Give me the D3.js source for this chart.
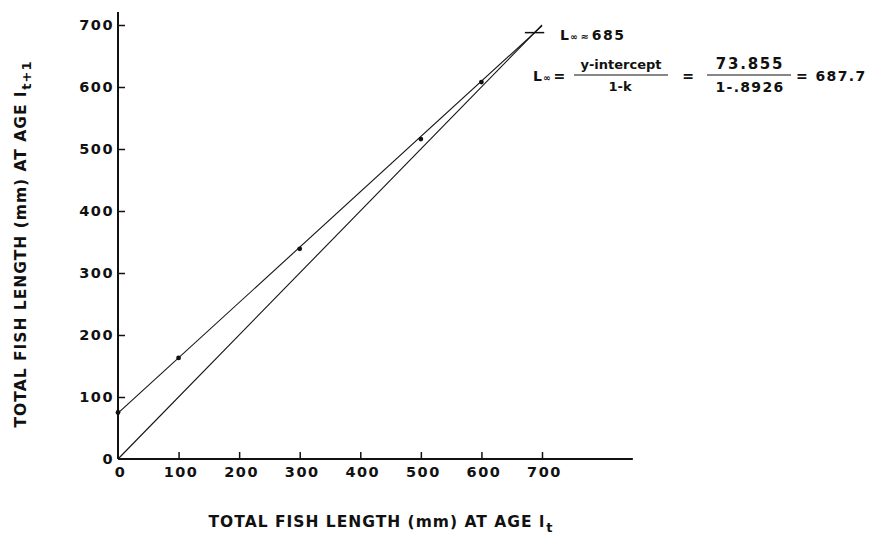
<!DOCTYPE html>
<html>
<head>
<meta charset="utf-8">
<script src="https://cdn.jsdelivr.net/npm/d3@7"></script>
<style>
  html, body { margin: 0; padding: 0; background: #fff; }
  svg { display: block; }
  text { font-family: "DejaVu Sans", "Liberation Sans", sans-serif; font-weight: bold; fill: #111; }
</style>
</head>
<body>
<svg id="chart" width="880" height="544"></svg>
<script>
// Walford plot: length at age t+1 against length at age t
const xTicks = [0, 100, 200, 300, 400, 500, 600, 700];
const yTicks = [0, 100, 200, 300, 400, 500, 600, 700];
const lengthAtT = [0, 100, 300, 500, 600];
const lengthAtT1 = [75, 163, 339, 516, 608];
const intercept = 73.855;
const slope = 0.8926;
const lInfinity = 687.7;

const svg = d3.select("#chart");
const x = d3.scaleLinear().domain([0, 700]).range([118, 542]);
const y = d3.scaleLinear().domain([0, 700]).range([459, 25]);
const ink = "#111";

// axes
const xAxis = d3.axisBottom(x).tickValues(xTicks).tickSizeInner(-7).tickSizeOuter(0).tickPadding(8);
const gx = svg.append("g").attr("transform", `translate(0,${y(0)})`).call(xAxis);
gx.select(".domain").remove();
gx.selectAll(".tick line").attr("stroke", ink).attr("stroke-width", 1.5)
  .filter(d => d === 0).remove();
gx.selectAll(".tick text").attr("font-size", 14.5).attr("letter-spacing", 1.5)
  .attr("fill", ink).attr("dx", 2);

const yAxis = d3.axisLeft(y).tickValues(yTicks).tickSizeInner(-7).tickSizeOuter(0).tickPadding(4);
const gy = svg.append("g").attr("transform", `translate(${x(0)},0)`).call(yAxis);
gy.select(".domain").remove();
gy.selectAll(".tick line").attr("stroke", ink).attr("stroke-width", 1.5)
  .filter(d => d === 0).remove();
gy.selectAll(".tick text").attr("font-size", 14.5).attr("letter-spacing", 1.5).attr("fill", ink);

svg.append("line").attr("x1", x(0)).attr("x2", x(850)).attr("y1", y(0)).attr("y2", y(0))
  .attr("stroke", ink).attr("stroke-width", 2);
svg.append("line").attr("x1", x(0)).attr("x2", x(0)).attr("y1", y(0)).attr("y2", y(721))
  .attr("stroke", ink).attr("stroke-width", 2);

// 45-degree line (l_t+1 = l_t)
const line = d3.line().x(d => x(d[0])).y(d => y(d[1]));
svg.append("path").attr("d", line([[0, 0], [700, 700]]))
  .attr("fill", "none").attr("stroke", ink).attr("stroke-width", 1.1);

// fitted regression line
svg.append("path").attr("d", line([[0, intercept], [700, intercept + slope * 700]]))
  .attr("fill", "none").attr("stroke", ink).attr("stroke-width", 1.1);

// observed points
svg.selectAll("circle.pt").data(lengthAtT).enter().append("circle")
  .attr("class", "pt")
  .attr("cx", d => x(d)).attr("cy", (d, i) => y(lengthAtT1[i]))
  .attr("r", 2.4).attr("fill", ink);

// intersection marker
svg.append("line")
  .attr("x1", x(lInfinity - 16)).attr("x2", x(lInfinity + 16))
  .attr("y1", y(lInfinity)).attr("y2", y(lInfinity))
  .attr("stroke", ink).attr("stroke-width", 1.5);

// annotation: L∞ ≈ 685
const a1 = svg.append("text").attr("x", 560).attr("y", 40).attr("font-size", 14);
a1.append("tspan").text("L");
a1.append("tspan").attr("font-size", 9).attr("dx", 1).text("∞");
a1.append("tspan").attr("font-size", 10).attr("dx", 3).text("≈");
a1.append("tspan").attr("dx", 3).attr("letter-spacing", 1.5).text("685");

// annotation: L∞ = y-intercept / (1-k) = 73.855 / (1-.8926) = 687.7
const a2 = svg.append("text").attr("x", 533).attr("y", 81).attr("font-size", 14);
a2.append("tspan").text("L");
a2.append("tspan").attr("font-size", 9).attr("dx", 1).text("∞");
a2.append("tspan").attr("dx", 3).text("=");

svg.append("text").attr("x", 621).attr("y", 69).attr("font-size", 13)
  .attr("text-anchor", "middle").text("y-intercept");
svg.append("line").attr("x1", 574).attr("x2", 668).attr("y1", 75).attr("y2", 75)
  .attr("stroke", ink).attr("stroke-width", 1.2);
svg.append("text").attr("x", 620).attr("y", 91).attr("font-size", 13)
  .attr("text-anchor", "middle").text("1-k");

svg.append("text").attr("x", 688).attr("y", 81).attr("font-size", 14)
  .attr("text-anchor", "middle").text("=");

svg.append("text").attr("x", 750).attr("y", 69).attr("font-size", 15)
  .attr("text-anchor", "middle").attr("letter-spacing", 1.8).text(intercept.toFixed(3));
svg.append("line").attr("x1", 707).attr("x2", 791).attr("y1", 75).attr("y2", 75)
  .attr("stroke", ink).attr("stroke-width", 1.2);
svg.append("text").attr("x", 750).attr("y", 92).attr("font-size", 14)
  .attr("text-anchor", "middle").attr("letter-spacing", 1.3).text("1-.8926");

svg.append("text").attr("x", 796).attr("y", 81).attr("font-size", 14)
  .attr("letter-spacing", 1.4).text("= " + lInfinity.toFixed(1));

// axis titles
const xt = svg.append("text").attr("x", 381).attr("y", 527).attr("font-size", 15.5)
  .attr("letter-spacing", 1).attr("text-anchor", "middle");
xt.append("tspan").text("TOTAL FISH LENGTH (mm) AT AGE l");
xt.append("tspan").attr("dy", 5).attr("font-size", 13).attr("dx", 1).text("t");

const yt = svg.append("text")
  .attr("transform", "translate(26,244) rotate(-90)")
  .attr("font-size", 15.5).attr("letter-spacing", 1).attr("text-anchor", "middle");
yt.append("tspan").text("TOTAL FISH LENGTH (mm) AT AGE l");
yt.append("tspan").attr("dy", 5).attr("font-size", 13).attr("dx", 1).text("t+1");
</script>
</body>
</html>
